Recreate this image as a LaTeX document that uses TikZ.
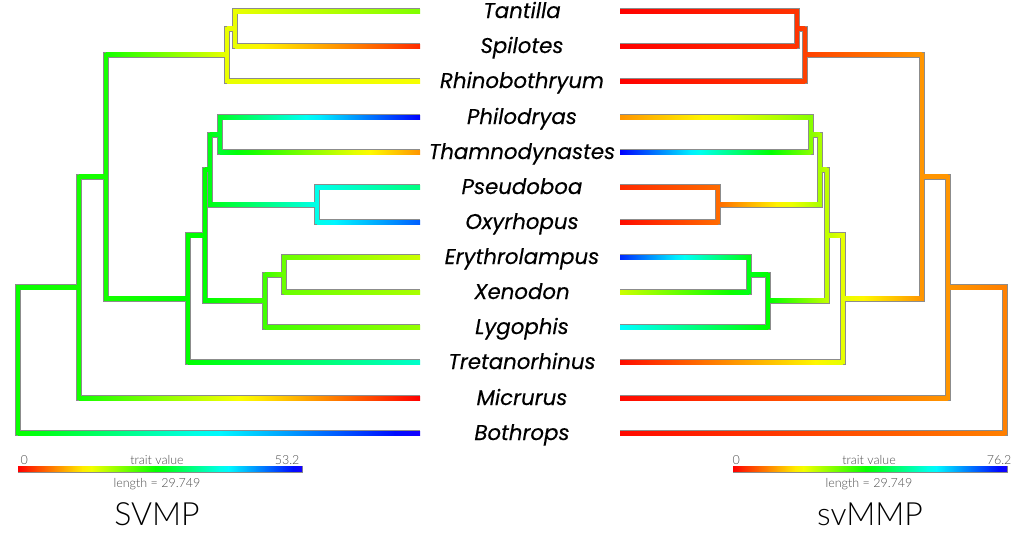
\documentclass[tikz,border=0pt]{standalone}
\usepackage{fontspec}
\setmainfont{Lato}
\newfontfamily\tipfont{Poppins}[ItalicFeatures={FakeBold=0.3}]
\newfontfamily\lightfont{Lato Light}
\tikzset{
  outl/.style={line width=6pt,draw=black!45},
  tip/.style={anchor=base,font=\tipfont\itshape\fontsize{21.3}{25}\selectfont},
  legtxt/.style={anchor=base,text=black!70,font=\lightfont\fontsize{12.5}{14}\selectfont},
  title/.style={anchor=base,font=\lightfont\fontsize{32}{36}\selectfont},
}
% colour from hue (degrees), full saturation and brightness
\newcommand\huecol[2]{%
  \pgfmathsetmacro\hR{min(1,max(0,abs(#2/60-3)-1))}%
  \pgfmathsetmacro\hG{min(1,max(0,2-abs(#2/60-2)))}%
  \pgfmathsetmacro\hB{min(1,max(0,2-abs(#2/60-4)))}%
  \definecolor{#1}{rgb}{\hR,\hG,\hB}%
}
% gradient bar: xl xr y hl hr halfwidth
\newcommand\grad[6]{%
  \pgfmathtruncatemacro\nseg{max(2,ceil(abs(#5-#4)/8))}%
  \foreach \i in {1,...,\nseg}{%
    \pgfmathsetmacro\xa{#1+(#2-#1)*(\i-1)/\nseg}%
    \pgfmathsetmacro\xb{#1+(#2-#1)*\i/\nseg+((\i<\nseg) ? 0.5 : 0)}%
    \pgfmathsetmacro\ha{#4+(#5-#4)*(\i-1)/\nseg}%
    \pgfmathsetmacro\hb{#4+(#5-#4)*\i/\nseg}%
    \huecol{ca}{\ha}%
    \huecol{cb}{\hb}%
    \shade[left color=ca,right color=cb] (\xa,#3-#6) rectangle (\xb,#3+#6);
  }%
}
\newcommand\Hout[5]{\draw[outl] (#1,#3) -- (#2,#3);}
\newcommand\Hcol[5]{\grad{#1}{#2}{#3}{#4}{#5}{2}}
\newcommand\Vout[4]{\draw[outl,line cap=rect] (#1,#2) -- (#1,#3);}
\newcommand\Vcol[4]{\huecol{vc}{#4}\draw[line width=4pt,draw=vc,line cap=rect] (#1,#2) -- (#1,#3);}
% tree data: \BV{x}{ytop}{ybot}{hue}, \BH{xl}{xr}{y}{hue left}{hue right}
\newcommand\treeData{%
  % ---- left tree (SVMP)
  \BV{18}{287.3}{433}{118}
  \BV{79}{176.7}{398}{115}
  \BV{106}{54.75}{298.6}{115}
  \BV{227}{28.5}{81}{65}
  \BV{235}{11}{46}{65}
  \BV{188}{235.1}{362}{120}
  \BV{205}{169.5}{300.75}{120}
  \BV{210}{134.5}{204.5}{125}
  \BV{220}{117}{152}{130}
  \BV{317}{187}{222}{175}
  \BV{265}{274.5}{327}{105}
  \BV{284}{257}{292}{95}
  \BH{18}{420}{433}{118}{245}
  \BH{18}{79}{287.3}{118}{115}
  \BH{79}{420}{398}{115}{0}
  \BH{79}{106}{176.7}{115}{115}
  \BH{106}{227}{54.75}{115}{65}
  \BH{106}{188}{298.6}{115}{120}
  \BH{227}{235}{28.5}{65}{65}
  \BH{227}{420}{81}{65}{62}
  \BH{235}{420}{11}{65}{90}
  \BH{235}{420}{46}{65}{10}
  \BH{188}{205}{235.1}{120}{120}
  \BH{188}{420}{362}{120}{168}
  \BH{205}{210}{169.5}{120}{125}
  \BH{205}{265}{300.75}{120}{105}
  \BH{210}{220}{134.5}{125}{130}
  \BH{210}{317}{204.5}{125}{175}
  \BH{220}{420}{117}{130}{240}
  \BH{220}{420}{152}{130}{35}
  \BH{317}{420}{187}{175}{150}
  \BH{317}{420}{222}{175}{218}
  \BH{265}{284}{274.5}{105}{95}
  \BH{265}{420}{327}{105}{85}
  \BH{284}{420}{257}{95}{72}
  \BH{284}{420}{292}{95}{80}
  % ---- right tree (svMMP)
  \BV{1005}{287.3}{433}{30}
  \BV{948}{176.7}{398}{35}
  \BV{922}{54.75}{298.6}{35}
  \BV{805}{28.5}{81}{15}
  \BV{797}{11}{46}{12}
  \BV{843}{235.1}{362}{66}
  \BV{827}{169.5}{300.75}{75}
  \BV{820}{134.5}{204.5}{80}
  \BV{811}{117}{152}{88}
  \BV{718}{187}{222}{25}
  \BV{768}{274.5}{327}{120}
  \BV{749}{257}{292}{125}
  \BH{620}{1005}{433}{2}{30}
  \BH{948}{1005}{287.3}{35}{30}
  \BH{620}{948}{398}{2}{35}
  \BH{922}{948}{176.7}{35}{35}
  \BH{805}{922}{54.75}{15}{35}
  \BH{843}{922}{298.6}{66}{35}
  \BH{797}{805}{28.5}{12}{15}
  \BH{620}{805}{81}{0}{15}
  \BH{620}{797}{11}{0}{12}
  \BH{620}{797}{46}{0}{12}
  \BH{827}{843}{235.1}{75}{66}
  \BH{620}{843}{362}{3}{66}
  \BH{820}{827}{169.5}{80}{75}
  \BH{768}{827}{300.75}{120}{75}
  \BH{811}{820}{134.5}{88}{80}
  \BH{718}{820}{204.5}{25}{80}
  \BH{620}{811}{117}{35}{88}
  \BH{620}{811}{152}{240}{88}
  \BH{620}{718}{187}{10}{25}
  \BH{620}{718}{222}{3}{25}
  \BH{749}{768}{274.5}{125}{120}
  \BH{620}{768}{327}{180}{120}
  \BH{620}{749}{257}{230}{125}
  \BH{620}{749}{292}{72}{125}
}
\begin{document}
\begin{tikzpicture}[x=1pt,y=-1pt]
\useasboundingbox (0,0) rectangle (1024,536);
% outlines first, then colours
\begingroup
\let\BV\Vout \let\BH\Hout
\treeData
\endgroup
\begingroup
\let\BV\Vcol \let\BH\Hcol
\treeData
\endgroup
% tip labels
\node[tip] (tantilla) at (522,18) {Tantilla};
\node[tip] (spilotes) at (522,53) {Spilotes};
\node[tip] (rhino) at (522,88) {Rhinobothryum};
\node[tip] (philo) at (522,124) {Philodryas};
\node[tip] (thamno) at (522,159) {Thamnodynastes};
\node[tip] (pseudo) at (522,194) {Pseudoboa};
\node[tip] (oxy) at (522,229) {Oxyrhopus};
\node[tip] (erythro) at (522,264) {Erythrolampus};
\node[tip] (xeno) at (522,299) {Xenodon};
\node[tip] (lygo) at (522,334) {Lygophis};
\node[tip] (treta) at (522,369) {Tretanorhinus};
\node[tip] (micrurus) at (522,405) {Micrurus};
\node[tip] (bothrops) at (522,440) {Bothrops};
% left legend
\draw[black!45,line width=0.8pt] (18,466) rectangle (302,472);
\grad{18}{302}{469}{0}{245}{2.6}
\node[legtxt,anchor=base west] (l0) at (17,464) {0};
\node[legtxt] (ltv) at (157,464) {trait value};
\node[legtxt,anchor=base east] (lmax) at (303,464) {53.2};
\node[legtxt] (llen) at (157,487) {length = 29.749};
\node[title] (svmp) at (157,525) {SVMP};
% right legend
\draw[black!45,line width=0.8pt] (733,466) rectangle (1007,472);
\grad{733}{1007}{469}{0}{245}{2.6}
\node[legtxt,anchor=base west] (r0) at (729,464) {0};
\node[legtxt] (rtv) at (869,464) {trait value};
\node[legtxt,anchor=base east] (rmax) at (1015,464) {76.2};
\node[legtxt] (rlen) at (869,487) {length = 29.749};
\node[title] (svmmp) at (870,525) {svMMP};
\end{tikzpicture}
\end{document}
